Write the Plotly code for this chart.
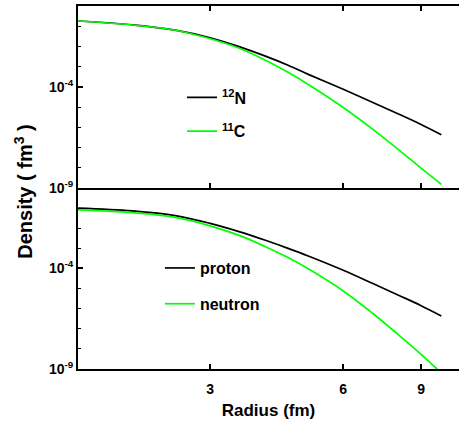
import numpy as np
import plotly.graph_objects as go

# Radius grid (fm)
radius = [1.5, 2.0, 2.5, 3.0, 3.5, 4.0, 4.5, 5.0, 6.0, 7.0, 8.0, 9.0, 10.0]

# log10 of density (fm^-3)
n12_log = [-0.74, -0.93, -1.19, -1.57, -2.02, -2.48, -2.93, -3.38, -4.12, -4.77, -5.34, -5.86, -6.37]
c11_log = [-0.74, -0.94, -1.20, -1.62, -2.10, -2.68, -3.28, -3.88, -5.02, -6.10, -7.10, -8.02, -8.82]
proton_log = [-1.00, -1.14, -1.37, -1.76, -2.18, -2.60, -3.00, -3.38, -4.09, -4.75, -5.33, -5.85, -6.36]
neutron_log = [-1.09, -1.23, -1.46, -1.88, -2.37, -2.92, -3.46, -4.02, -5.12, -6.24, -7.30, -8.27, -9.20]

x_ticks = [3, 6, 9]
y_tickvals = [1e-9, 1e-4]
y_ticktext = ["10<sup>-9</sup>", "10<sup>-4</sup>"]
y_minor = [1e-8, 1e-7, 1e-6, 1e-5, 1e-3, 1e-2, 1e-1]

FONT = "Arial, Liberation Sans, sans-serif"
BLACK = "#000000"
GREEN = "#00ff00"

fig = go.Figure()

def add(name, ylog, color, xa, ya, legend, group):
    fig.add_trace(go.Scatter(
        x=radius, y=np.power(10.0, ylog), mode="lines", name=name,
        line=dict(color=color, width=1.7, shape="spline", smoothing=1.0),
        xaxis=xa, yaxis=ya, legend=legend, legendgroup=group,
    ))

add("<sup>12</sup>N", n12_log, BLACK, "x2", "y2", "legend", "a")
add("<sup>11</sup>C", c11_log, GREEN, "x2", "y2", "legend", "b")
add("proton", proton_log, BLACK, "x", "y", "legend2", "c")
add("neutron", neutron_log, GREEN, "x", "y", "legend2", "d")

split = 0.4986
xr = [0.178, 1.04]

common_x = dict(type="log", range=xr, tickvals=x_ticks, ticks="inside", ticklen=5,
                tickwidth=1.5, tickcolor=BLACK, showline=True, linewidth=2, linecolor=BLACK,
                showgrid=False, zeroline=False)
common_y = dict(type="log", range=[-9, 0], tickvals=y_tickvals, ticktext=y_ticktext,
                ticks="inside", ticklen=5, tickwidth=1.5, tickcolor=BLACK,
                showline=True, linewidth=2, linecolor=BLACK, showgrid=False, zeroline=False,
                minor=dict(tickvals=y_minor, ticks="inside", ticklen=3, tickwidth=1, tickcolor=BLACK),
                tickfont=dict(family=FONT, size=14, color=BLACK, weight="bold"))

fig.update_layout(
    width=459, height=423,
    margin=dict(l=78, r=0, t=6, b=54),
    paper_bgcolor="white", plot_bgcolor="white",
    xaxis=dict(**common_x, anchor="y", ticklabelstandoff=6,
               tickfont=dict(family=FONT, size=14, color=BLACK, weight="bold"),
               title=dict(text="Radius (fm)", standoff=8,
                          font=dict(family=FONT, size=17, color=BLACK, weight="bold"))),
    xaxis2=dict(**common_x, anchor="y2", matches="x", showticklabels=False, mirror="ticks"),
    yaxis=dict(**common_y, domain=[0, split], anchor="x"),
    yaxis2=dict(**common_y, domain=[split, 1], anchor="x2"),
    legend=dict(x=0.273, y=0.795, xanchor="left", yanchor="top", bgcolor="rgba(0,0,0,0)",
                font=dict(family=FONT, size=16, color=BLACK, weight="bold"), tracegroupgap=10),
    legend2=dict(x=0.215, y=0.325, xanchor="left", yanchor="top", bgcolor="rgba(0,0,0,0)",
                 font=dict(family=FONT, size=16, color=BLACK, weight="bold"), tracegroupgap=12),
    showlegend=True,
    annotations=[dict(text="Density ( fm<sup>3</sup> )", textangle=-90, xref="paper", yref="paper",
                      x=-0.142, y=0.488, xanchor="center", yanchor="middle", showarrow=False,
                      font=dict(family=FONT, size=20, color=BLACK, weight="bold"))],
)

fig.write_html("out.html", config={"displayModeBar": False},
               post_script="document.body.style.margin='0';document.body.style.padding='0';")
